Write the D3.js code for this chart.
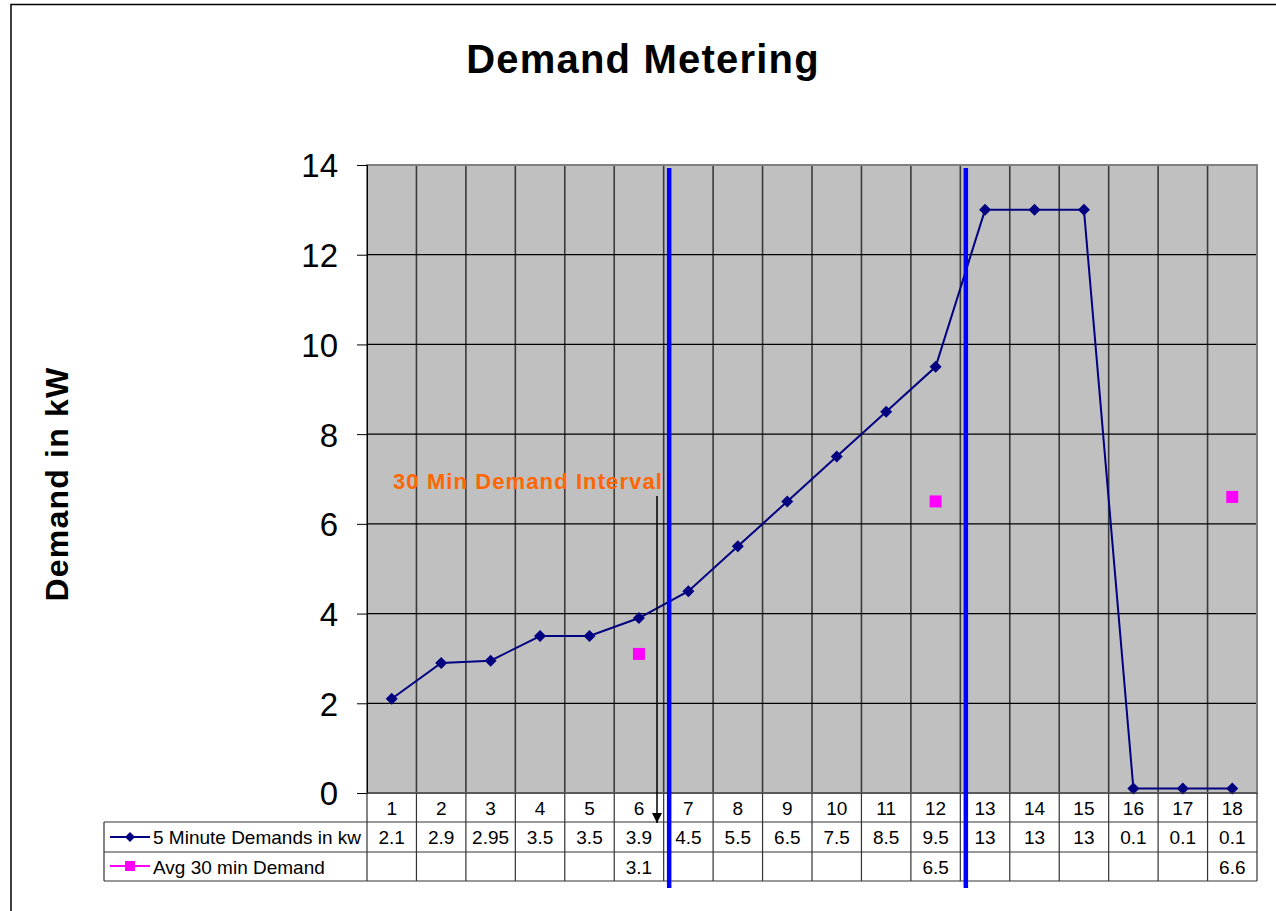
<!DOCTYPE html>
<html><head><meta charset="utf-8">
<script src="https://cdn.jsdelivr.net/npm/d3@7/dist/d3.min.js"></script>
<style>body{margin:0;background:#fff}svg{display:block;font-family:"Liberation Sans",Arial,sans-serif}</style>
</head><body><svg id="c" width="1276" height="911"></svg>
<script>
const categories = ["1","2","3","4","5","6","7","8","9","10","11","12","13","14","15","16","17","18"];
const fiveMin = [2.1,2.9,2.95,3.5,3.5,3.9,4.5,5.5,6.5,7.5,8.5,9.5,13,13,13,0.1,0.1,0.1];
const fiveMinLabels = ["2.1","2.9","2.95","3.5","3.5","3.9","4.5","5.5","6.5","7.5","8.5","9.5","13","13","13","0.1","0.1","0.1"];
const avg30 = [null,null,null,null,null,3.1,null,null,null,null,null,6.5,null,null,null,null,null,6.6];
const avg30Labels = ["","","","","","3.1","","","","","","6.5","","","","","","6.6"];
const yTicks = [0,2,4,6,8,10,12,14];
const seriesNames = ["5 Minute Demands in kw","Avg 30 min Demand"];
const intervalEnds = ["6","12"];

const svg = d3.select("#c");
const L=367,R=1257,T=165,B=793;
const x = d3.scaleBand().domain(categories).range([L,R]).padding(0);
const y = d3.scaleLinear().domain([0,14]).range([B,T]);
const cx = c => x(c)+x.bandwidth()/2;

// frame
svg.append("path").attr("d","M11,911 V4.5 H1276").attr("fill","none").attr("stroke","#000").attr("stroke-width",1.5);

// title
svg.append("text").attr("x",643).attr("y",73).attr("text-anchor","middle")
  .attr("font-size",40).attr("font-weight","bold").attr("letter-spacing",1.2).text("Demand Metering");
// y label
svg.append("text").attr("transform","translate(68,484) rotate(-90)").attr("text-anchor","middle")
  .attr("font-size",32).attr("font-weight","bold").attr("letter-spacing",1.2).text("Demand in kW");

// plot bg
svg.append("rect").attr("x",L).attr("y",T).attr("width",R-L).attr("height",B-T).attr("fill","#c0c0c0");
// vertical grid (category boundaries)
svg.append("g").selectAll("line").data(categories.slice(1)).join("line")
  .attr("x1",d=>x(d)).attr("x2",d=>x(d)).attr("y1",T).attr("y2",B)
  .attr("stroke","#3a3a3a").attr("stroke-width",1.6);
// horizontal grid
svg.append("g").selectAll("line").data(yTicks.slice(1,-1)).join("line")
  .attr("x1",L).attr("x2",R).attr("y1",d=>y(d)).attr("y2",d=>y(d))
  .attr("stroke","#000").attr("stroke-width",1.2);
svg.append("rect").attr("x",L).attr("y",T).attr("width",R-L).attr("height",B-T)
  .attr("fill","none").attr("stroke","#808080").attr("stroke-width",2);

// y axis
const ya = svg.append("g").attr("transform",`translate(${L},0)`)
  .call(d3.axisLeft(y).tickValues(yTicks).tickSize(10).tickPadding(19).tickFormat(d3.format("d")));
ya.select(".domain").attr("stroke","#000");
ya.selectAll(".tick line").attr("stroke","#000");
ya.selectAll(".tick text").attr("font-size",33).attr("fill","#000").attr("font-family","Liberation Sans, Arial, sans-serif").attr("dy","0.36em");

// series line
svg.append("path").datum(fiveMin).attr("fill","none").attr("stroke","#000080").attr("stroke-width",2)
  .attr("d",d3.line().x((d,i)=>cx(categories[i])).y(d=>y(d)));
svg.append("g").selectAll("path").data(fiveMin).join("path")
  .attr("transform",(d,i)=>`translate(${cx(categories[i])},${y(d)})`)
  .attr("d","M0,-6L6,0L0,6L-6,0Z").attr("fill","#000080");
// avg squares
svg.append("g").selectAll("rect").data(avg30.map((v,i)=>({v,c:categories[i]})).filter(d=>d.v!=null)).join("rect")
  .attr("x",d=>cx(d.c)-6).attr("y",d=>y(d.v)-6).attr("width",12).attr("height",12).attr("fill","#ff00ff");

// table
const rowY=[B,822,852,881];
const tb = svg.append("g").attr("stroke","#333").attr("stroke-width",1.2);
tb.append("line").attr("x1",L).attr("x2",R).attr("y1",rowY[0]).attr("y2",rowY[0]);
[1,2,3].forEach(k=>tb.append("line").attr("x1",104).attr("x2",R).attr("y1",rowY[k]).attr("y2",rowY[k]));
tb.append("line").attr("x1",104).attr("x2",104).attr("y1",rowY[1]).attr("y2",rowY[3]);
tb.selectAll(".v").data(categories.concat(["end"])).join("line")
  .attr("x1",d=>d==="end"?R:x(d)).attr("x2",d=>d==="end"?R:x(d)).attr("y1",rowY[0]).attr("y2",rowY[3]);
const fs=19;
svg.append("g").selectAll("text").data(categories).join("text")
  .attr("x",d=>cx(d)).attr("y",815).attr("text-anchor","middle").attr("font-size",fs).text(d=>d);
svg.append("g").selectAll("text").data(fiveMinLabels).join("text")
  .attr("x",(d,i)=>cx(categories[i])).attr("y",844).attr("text-anchor","middle").attr("font-size",fs).text(d=>d);
svg.append("g").selectAll("text").data(avg30Labels).join("text")
  .attr("x",(d,i)=>cx(categories[i])).attr("y",874).attr("text-anchor","middle").attr("font-size",fs).text(d=>d);
// legend keys
svg.append("line").attr("x1",110).attr("x2",150).attr("y1",837).attr("y2",837).attr("stroke","#000080").attr("stroke-width",2);
svg.append("path").attr("transform","translate(130,837)").attr("d","M0,-5L5,0L0,5L-5,0Z").attr("fill","#000080");
svg.append("line").attr("x1",110).attr("x2",150).attr("y1",866).attr("y2",866).attr("stroke","#ff00ff").attr("stroke-width",2);
svg.append("rect").attr("x",125).attr("y",861).attr("width",10).attr("height",10).attr("fill","#ff00ff");
svg.append("text").attr("x",153).attr("y",844).attr("font-size",fs).text(seriesNames[0]);
svg.append("text").attr("x",153).attr("y",874).attr("font-size",fs).text(seriesNames[1]);

// interval boundaries (blue)
svg.append("g").selectAll("line").data(intervalEnds).join("line")
  .attr("x1",d=>x(d)+x.bandwidth()+5.5).attr("x2",d=>x(d)+x.bandwidth()+5.5)
  .attr("y1",168).attr("y2",888).attr("stroke","#0000ff").attr("stroke-width",4.5);

// annotation arrow
svg.append("defs").append("marker").attr("id","ah").attr("viewBox","0 0 10 10").attr("refX",10).attr("refY",5)
  .attr("markerWidth",10).attr("markerHeight",12).attr("markerUnits","userSpaceOnUse").attr("orient","auto")
  .append("path").attr("d","M0,0L10,5L0,10Z").attr("fill","#000");
svg.append("line").attr("x1",657).attr("x2",657).attr("y1",496).attr("y2",823)
  .attr("stroke","#000").attr("stroke-width",1.5).attr("marker-end","url(#ah)");
svg.append("text").attr("x",393).attr("y",489).attr("font-size",22).attr("font-weight","bold")
  .attr("letter-spacing",1.1).attr("fill","#ff6600").text("30 Min Demand Interval");
</script></body></html>
